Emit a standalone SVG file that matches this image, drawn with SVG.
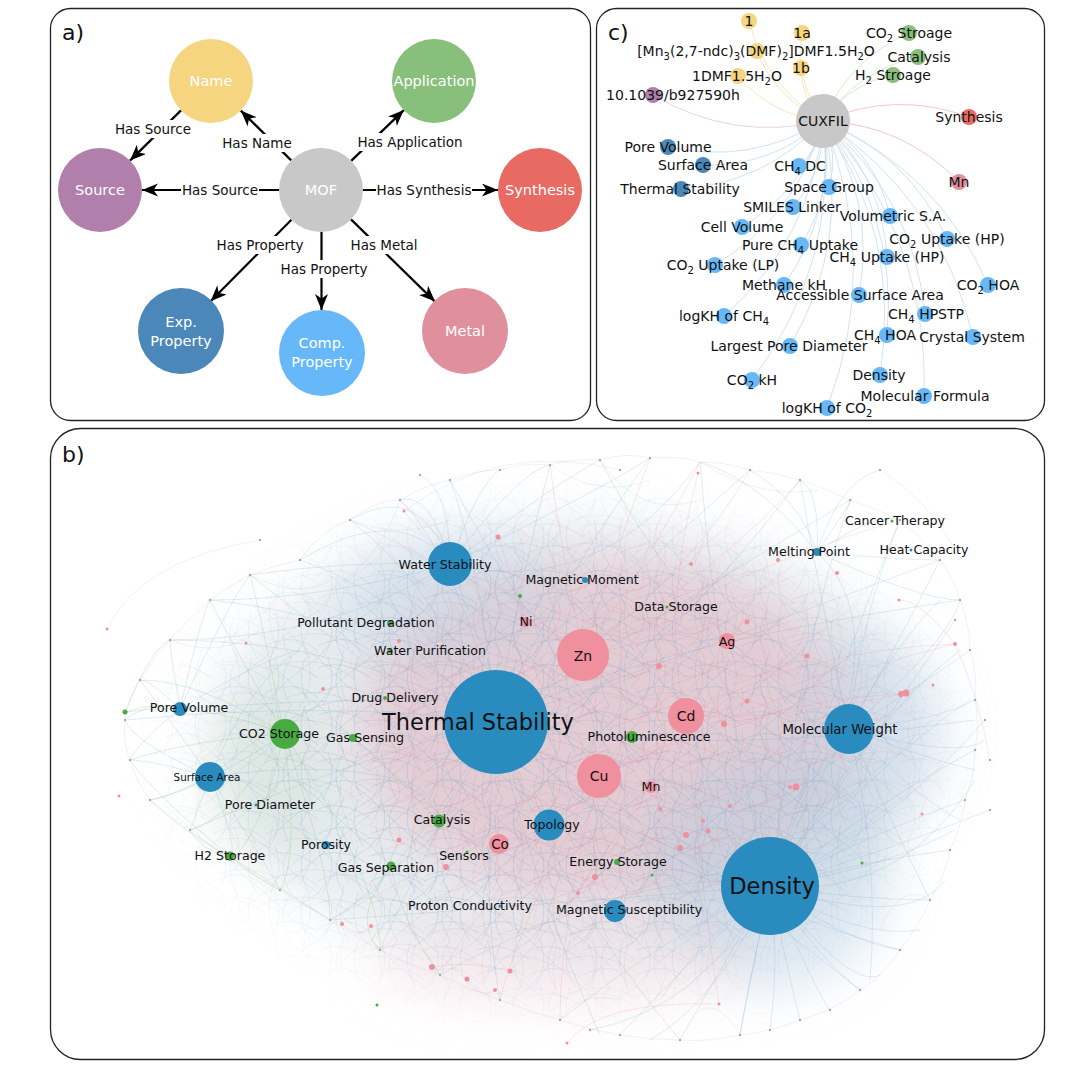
<svg xmlns="http://www.w3.org/2000/svg" width="1066" height="1074" viewBox="0 0 1066 1074">
<style>
text{font-family:"DejaVu Sans","Liberation Sans",sans-serif}
.frame{fill:#fff;stroke:#222;stroke-width:1.3}
.plab{font-size:22px;fill:#111}
.arr{stroke:#000;stroke-width:2.2;fill:none;marker-end:url(#ah)}
.elab{font-size:13.5px;fill:#111;text-anchor:middle}
.nlab{font-size:14.5px;fill:#fff;text-anchor:middle}
.cl{font-size:14px;fill:#111;text-anchor:middle}
.bl{font-size:12.6px;fill:#111;text-anchor:middle}
.big{font-size:22.5px}
.mid{font-size:14px}
.sm{font-size:10.4px}
.ce{fill:none;stroke-width:0.9}
.eb{fill:none;stroke:#6fa6cf;stroke-width:0.6;stroke-opacity:0.35}
.ep{fill:none;stroke:#e9909f;stroke-width:0.6;stroke-opacity:0.35}
.eg{fill:none;stroke:#7dbf72;stroke-width:0.6;stroke-opacity:0.4}
.ex{fill:none;stroke:#9aa;stroke-width:0.5;stroke-opacity:0.3}
.gd{fill:#aaa}
.bB{fill:#2a8bbf}
.bP{fill:#f0909e}
.bG{fill:#4aaa42}
</style>
<defs>
<marker id="ah" markerUnits="userSpaceOnUse" markerWidth="18" markerHeight="14" refX="16" refY="6.5" orient="auto">
<path d="M0,0 L16,6.5 L0,13 L4.5,6.5 z" fill="#000"/>
</marker>
<filter id="haze" x="-30%" y="-30%" width="160%" height="160%"><feGaussianBlur stdDeviation="24"/></filter>
<clipPath id="clipb"><rect x="50" y="428" width="994" height="632" rx="30"/></clipPath>
<pattern id="meshB" width="53" height="47" patternUnits="userSpaceOnUse">
<path d="M0,10 Q25,0 53,20 M0,35 Q30,20 53,40 M10,0 Q20,25 5,47 M40,0 Q30,25 45,47 M0,0 Q30,30 53,47 M0,47 Q20,20 53,0 M26,0 Q10,24 26,47" stroke="#6b9ec4" stroke-width="0.45" fill="none" opacity="0.55"/>
</pattern>
<pattern id="meshP" width="61" height="43" patternUnits="userSpaceOnUse">
<path d="M0,25 Q25,45 61,5 M25,0 Q45,20 20,43 M0,8 Q30,15 61,30 M50,0 Q40,20 55,43 M0,40 Q30,30 61,18 M10,0 Q15,20 0,35" stroke="#de8798" stroke-width="0.45" fill="none" opacity="0.6"/>
</pattern>
<pattern id="meshG" width="71" height="59" patternUnits="userSpaceOnUse">
<path d="M0,15 Q35,5 71,30 M0,50 Q35,35 71,55 M20,0 Q35,30 15,59 M60,0 Q50,30 65,59" stroke="#909aa0" stroke-width="0.4" fill="none" opacity="0.5"/>
</pattern>
<radialGradient id="rgAll" cx="0.5" cy="0.5" r="0.5">
<stop offset="0" stop-color="#fff"/><stop offset="0.6" stop-color="#fff" stop-opacity="0.85"/><stop offset="1" stop-color="#fff" stop-opacity="0"/>
</radialGradient>
<radialGradient id="rgCore" cx="0.5" cy="0.5" r="0.5">
<stop offset="0" stop-color="#fff"/><stop offset="0.6" stop-color="#fff" stop-opacity="0.8"/><stop offset="1" stop-color="#fff" stop-opacity="0"/>
</radialGradient>
<mask id="mAll" maskUnits="userSpaceOnUse" x="50" y="428" width="994" height="632"><ellipse cx="558" cy="752" rx="440" ry="285" fill="url(#rgAll)"/></mask>
<mask id="mCore" maskUnits="userSpaceOnUse" x="50" y="428" width="994" height="632"><ellipse cx="610" cy="740" rx="330" ry="240" fill="url(#rgCore)"/></mask>
</defs>

<!-- panel frames -->
<rect class="frame" x="50.5" y="8.5" width="540" height="412" rx="20"/>
<rect class="frame" x="596.5" y="8.5" width="448" height="412" rx="20"/>
<rect class="frame" x="50.5" y="428.5" width="994" height="631" rx="30"/>
<text class="plab" x="62" y="40">a)</text>
<text class="plab" x="608" y="40">c)</text>
<text class="plab" x="62" y="462">b)</text>

<!-- ============ PANEL A ============ -->
<g id="a-edges">
<line class="arr" x1="291.2" y1="160.4" x2="240.8" y2="110.6"/>
<line class="arr" x1="351.2" y1="160.9" x2="403.8" y2="110.1"/>
<line class="arr" x1="279" y1="190" x2="142" y2="190"/>
<line class="arr" x1="363" y1="190" x2="498" y2="190"/>
<line class="arr" x1="291.4" y1="219.8" x2="210.6" y2="301.2"/>
<line class="arr" x1="321.5" y1="232" x2="321.5" y2="310"/>
<line class="arr" x1="351" y1="219.4" x2="435" y2="301.6"/>
<line class="arr" x1="181" y1="110.4" x2="130" y2="160.6"/>
<g fill="#fff">
<rect x="222" y="134" width="71" height="18"/>
<rect x="357" y="133" width="107" height="18"/>
<rect x="181" y="181" width="78" height="18"/>
<rect x="376" y="181" width="96" height="18"/>
<rect x="216" y="236" width="89" height="18"/>
<rect x="280" y="260" width="89" height="18"/>
<rect x="350" y="236" width="68" height="18"/>
<rect x="114" y="120" width="78" height="18"/>
</g>
<text class="elab" x="257" y="148">Has Name</text>
<text class="elab" x="410" y="147">Has Application</text>
<text class="elab" x="220" y="195">Has Source</text>
<text class="elab" x="424" y="195">Has Synthesis</text>
<text class="elab" x="260" y="250">Has Property</text>
<text class="elab" x="324" y="274">Has Property</text>
<text class="elab" x="384" y="250">Has Metal</text>
<text class="elab" x="153" y="134">Has Source</text>
</g>
<g id="a-name"><circle cx="211" cy="81" r="42" fill="#f5d580"/><text class="nlab" x="211" y="86">Name</text></g>
<g id="a-application"><circle cx="434" cy="81" r="42" fill="#88bf7a"/><text class="nlab" x="434" y="86">Application</text></g>
<g id="a-source"><circle cx="100" cy="190" r="42" fill="#b07fab"/><text class="nlab" x="100" y="195">Source</text></g>
<g id="a-mof"><circle cx="321" cy="190" r="42" fill="#c8c8c8"/><text class="nlab" x="321" y="195">MOF</text></g>
<g id="a-synthesis"><circle cx="540" cy="190" r="42" fill="#e96a63"/><text class="nlab" x="540" y="195">Synthesis</text></g>
<g id="a-exp"><circle cx="181" cy="331" r="43" fill="#4c87ba"/><text class="nlab" x="181" y="327">Exp.</text><text class="nlab" x="181" y="346">Property</text></g>
<g id="a-comp"><circle cx="322" cy="353" r="43" fill="#66b8f9"/><text class="nlab" x="322" y="348">Comp.</text><text class="nlab" x="322" y="367">Property</text></g>
<g id="a-metal"><circle cx="465" cy="331" r="43" fill="#e0909c"/><text class="nlab" x="465" y="336">Metal</text></g>

<!-- ============ PANEL C ============ -->
<g id="c-edges">
<g class="ce" stroke="#f3e4b6">
<path d="M823,121 Q766,86 749,21"/>
<path d="M823,121 Q795,81 802,33"/>
<path d="M823,121 Q776,99 757,51"/>
<path d="M823,121 Q801,99 801,68"/>
<path d="M823,121 Q771,115 738,76"/>
</g>
<path class="ce" stroke="#e6cbe0" d="M823,121 Q733,142 653,95"/>
<g class="ce" stroke="#d4e6cc">
<path d="M823,121 Q848,60 909,33"/>
<path d="M823,121 Q858,70 918,57"/>
<path d="M823,121 Q849,84 893,75"/>
</g>
<g class="ce" stroke="#f3c2c2">
<path d="M823,121 Q895,90 969,117"/>
<path d="M823,121 Q903,124 959,182"/>
</g>
<g class="ce" stroke="#cbdff1">
<path d="M823,121 Q751,165 668,147"/>
<path d="M823,121 Q772,167 703,165"/>
<path d="M823,121 Q766,183 681,189"/>
<path d="M823,121 Q820,148 799,166"/>
<path d="M823,121 Q839,153 829,187"/>
<path d="M823,121 Q825,170 793,207"/>
<path d="M823,121 Q876,155 890,216"/>
<path d="M823,121 Q804,190 742,227"/>
<path d="M823,121 Q909,155 947,239"/>
<path d="M823,121 Q837,187 801,245"/>
<path d="M823,121 Q882,176 887,257"/>
<path d="M823,121 Q798,215 715,265"/>
<path d="M823,121 Q836,211 784,285"/>
<path d="M823,121 Q938,170 988,285"/>
<path d="M823,121 Q876,201 859,295"/>
<path d="M823,121 Q813,238 724,316"/>
<path d="M823,121 Q913,197 925,314"/>
<path d="M823,121 Q898,215 887,335"/>
<path d="M823,121 Q941,199 973,337"/>
<path d="M823,121 Q852,240 790,346"/>
<path d="M823,121 Q902,237 880,375"/>
<path d="M823,121 Q839,265 752,380"/>
<path d="M823,121 Q929,238 924,396"/>
<path d="M823,121 Q882,264 827,408"/>
</g>
</g>
<g id="c-nodes">
<g id="c-1"><circle cx="749" cy="21" r="8" fill="#f5d580"/><text class="cl" x="749" y="26">1</text></g>
<g id="c-1a"><circle cx="802" cy="33" r="8" fill="#f5d580"/><text class="cl" x="802" y="38">1a</text></g>
<g id="c-mnname"><circle cx="757" cy="51" r="8" fill="#f5d580"/><text class="cl" x="756" y="56">[Mn<tspan font-size="10" dy="4">3</tspan><tspan dy="-4">(2,7-ndc)</tspan><tspan font-size="10" dy="4">3</tspan><tspan dy="-4">(DMF)</tspan><tspan font-size="10" dy="4">2</tspan><tspan dy="-4">]DMF1.5H</tspan><tspan font-size="10" dy="4">2</tspan><tspan dy="-4">O</tspan></text></g>
<g id="c-1b"><circle cx="801" cy="68" r="8" fill="#f5d580"/><text class="cl" x="801" y="73">1b</text></g>
<g id="c-1dmf"><circle cx="738" cy="76" r="8" fill="#f5d580"/><text class="cl" x="737" y="81">1DMF1.5H<tspan font-size="10" dy="4">2</tspan><tspan dy="-4">O</tspan></text></g>
<g id="c-doi"><circle cx="653" cy="95" r="8" fill="#b07fab"/><text class="cl" x="673" y="100">10.1039/b927590h</text></g>
<g id="c-co2s"><circle cx="909" cy="33" r="8" fill="#88bf7a"/><text class="cl" x="909" y="38">CO<tspan font-size="10" dy="4">2</tspan><tspan dy="-4"> Stroage</tspan></text></g>
<g id="c-catal"><circle cx="918" cy="57" r="8" fill="#88bf7a"/><text class="cl" x="919" y="62">Catalysis</text></g>
<g id="c-h2s"><circle cx="893" cy="75" r="8" fill="#88bf7a"/><text class="cl" x="893" y="80">H<tspan font-size="10" dy="4">2</tspan><tspan dy="-4"> Stroage</tspan></text></g>
<g id="c-cuxfil"><circle cx="823" cy="121" r="27" fill="#c8c8c8"/><text class="cl" x="823" y="126">CUXFIL</text></g>
<g id="c-synth"><circle cx="969" cy="117" r="8" fill="#e96a63"/><text class="cl" x="969" y="122">Synthesis</text></g>
<g id="c-mn"><circle cx="959" cy="182" r="8" fill="#e0909c"/><text class="cl" x="959" y="187">Mn</text></g>
<g id="c-porevol"><circle cx="668" cy="147" r="8" fill="#4c87ba"/><text class="cl" x="668" y="152">Pore Volume</text></g>
<g id="c-surf"><circle cx="703" cy="165" r="8" fill="#4c87ba"/><text class="cl" x="703" y="170">Surface Area</text></g>
<g id="c-therm"><circle cx="681" cy="189" r="8" fill="#4c87ba"/><text class="cl" x="680" y="194">Thermal Stability</text></g>
<g id="c-ch4dc"><circle cx="799" cy="166" r="8" fill="#66b8f9"/><text class="cl" x="800" y="171">CH<tspan font-size="10" dy="4">4</tspan><tspan dy="-4"> DC</tspan></text></g>
<g id="c-space"><circle cx="829" cy="187" r="8" fill="#66b8f9"/><text class="cl" x="829" y="192">Space Group</text></g>
<g id="c-smiles"><circle cx="793" cy="207" r="8" fill="#66b8f9"/><text class="cl" x="792" y="212">SMILES Linker</text></g>
<g id="c-volsa"><circle cx="890" cy="216" r="8" fill="#66b8f9"/><text class="cl" x="893" y="221">Volumetric S.A.</text></g>
<g id="c-cellvol"><circle cx="742" cy="227" r="8" fill="#66b8f9"/><text class="cl" x="742" y="232">Cell Volume</text></g>
<g id="c-co2hp"><circle cx="947" cy="239" r="8" fill="#66b8f9"/><text class="cl" x="947" y="244">CO<tspan font-size="10" dy="4">2</tspan><tspan dy="-4"> Uptake (HP)</tspan></text></g>
<g id="c-pure"><circle cx="801" cy="245" r="8" fill="#66b8f9"/><text class="cl" x="800" y="250">Pure CH<tspan font-size="10" dy="4">4</tspan><tspan dy="-4"> Uptake</tspan></text></g>
<g id="c-ch4hp"><circle cx="887" cy="257" r="8" fill="#66b8f9"/><text class="cl" x="887" y="262">CH<tspan font-size="10" dy="4">4</tspan><tspan dy="-4"> Uptake (HP)</tspan></text></g>
<g id="c-co2lp"><circle cx="715" cy="265" r="8" fill="#66b8f9"/><text class="cl" x="723" y="270">CO<tspan font-size="10" dy="4">2</tspan><tspan dy="-4"> Uptake (LP)</tspan></text></g>
<g id="c-methkh"><circle cx="784" cy="285" r="8" fill="#66b8f9"/><text class="cl" x="784" y="290">Methane kH</text></g>
<g id="c-co2hoa"><circle cx="988" cy="285" r="8" fill="#66b8f9"/><text class="cl" x="988" y="290">CO<tspan font-size="10" dy="4">2</tspan><tspan dy="-4"> HOA</tspan></text></g>
<g id="c-asa"><circle cx="859" cy="295" r="8" fill="#66b8f9"/><text class="cl" x="860" y="300">Accessible Surface Area</text></g>
<g id="c-logch4"><circle cx="724" cy="316" r="8" fill="#66b8f9"/><text class="cl" x="724" y="321">logKH of CH<tspan font-size="10" dy="4">4</tspan></text></g>
<g id="c-hpstp"><circle cx="925" cy="314" r="8" fill="#66b8f9"/><text class="cl" x="926" y="319">CH<tspan font-size="10" dy="4">4</tspan><tspan dy="-4"> HPSTP</tspan></text></g>
<g id="c-ch4hoa"><circle cx="887" cy="335" r="8" fill="#66b8f9"/><text class="cl" x="885" y="340">CH<tspan font-size="10" dy="4">4</tspan><tspan dy="-4"> HOA</tspan></text></g>
<g id="c-crys"><circle cx="973" cy="337" r="8" fill="#66b8f9"/><text class="cl" x="972" y="342">Crystal System</text></g>
<g id="c-lpd"><circle cx="790" cy="346" r="8" fill="#66b8f9"/><text class="cl" x="789" y="351">Largest Pore Diameter</text></g>
<g id="c-dens"><circle cx="880" cy="375" r="8" fill="#66b8f9"/><text class="cl" x="879" y="380">Density</text></g>
<g id="c-co2kh"><circle cx="752" cy="380" r="8" fill="#66b8f9"/><text class="cl" x="752" y="385">CO<tspan font-size="10" dy="4">2</tspan><tspan dy="-4"> kH</tspan></text></g>
<g id="c-molf"><circle cx="924" cy="396" r="8" fill="#66b8f9"/><text class="cl" x="925" y="401">Molecular Formula</text></g>
<g id="c-logco2"><circle cx="827" cy="408" r="8" fill="#66b8f9"/><text class="cl" x="827" y="413">logKH of CO<tspan font-size="10" dy="4">2</tspan></text></g>
</g>

<!-- ============ PANEL B ============ -->
<g clip-path="url(#clipb)">
<g id="b-haze" filter="url(#haze)">
<ellipse cx="570" cy="745" rx="360" ry="225" fill="#d4dce4" opacity="0.55"/>
<ellipse cx="610" cy="730" rx="250" ry="170" fill="#e2c0ca" opacity="0.7"/>
<ellipse cx="770" cy="870" rx="120" ry="120" fill="#b4cde0" opacity="0.45"/>
<ellipse cx="865" cy="730" rx="80" ry="100" fill="#bed3e3" opacity="0.4"/>
<ellipse cx="450" cy="600" rx="110" ry="70" fill="#c3d5e3" opacity="0.4"/>
<ellipse cx="270" cy="770" rx="60" ry="90" fill="#cfe0cf" opacity="0.4"/>
<ellipse cx="560" cy="960" rx="190" ry="50" fill="#f0d6dc" opacity="0.4"/>
</g>
<rect x="50" y="428" width="994" height="632" fill="url(#meshB)" mask="url(#mAll)"/>
<rect x="50" y="428" width="994" height="632" fill="url(#meshP)" mask="url(#mCore)"/>
<rect x="50" y="428" width="994" height="632" fill="url(#meshG)" mask="url(#mAll)"/>
<g id="b-edges">
<path class="ex" d="M300,560 Q320,530 350,520 Q375,500 400,500 Q425,485 450,480 Q475,470 500,470 Q525,462 550,465 Q575,458 600,460 Q625,452 650,458 Q675,455 700,462 Q725,462 750,470 Q775,472 800,480 Q825,488 850,500 Q875,508 900,520 Q925,540 940,560 Q955,580 960,600 Q970,625 970,650 Q978,675 975,700 Q980,725 975,750 Q975,775 965,800 Q962,825 950,850 Q945,875 930,900 Q920,925 900,950 Q885,975 860,990 Q835,1010 800,1020 Q770,1032 740,1035 Q710,1042 680,1040 Q650,1040 620,1035 Q590,1030 560,1020 Q530,1012 500,1000 Q470,990 440,975 Q410,965 380,950 Q355,937 330,920 Q305,905 280,890 Q255,876 230,860 Q210,845 190,830 Q168,815 150,800 Q135,780 130,760 Q122,740 125,720 Q128,700 140,680 Q152,660 170,640 Q188,620 210,600 Q230,585 250,575 Q275,565 300,560"/>
<path class="ex" d="M350,520 Q400,540 450,520 M550,465 Q600,500 650,480 M700,462 Q760,500 820,490 M880,470 Q930,500 960,560 M250,575 Q300,600 330,580 M170,640 Q220,660 260,630 M400,500 Q380,560 330,590 M600,460 Q640,520 700,500 M930,900 Q900,880 880,930 M740,1035 Q720,1000 700,1010 M560,1020 Q580,990 620,1000 M380,950 Q420,930 440,975 M107,629 Q140,560 260,540 M404,511 Q500,440 620,470"/>
<path class="eb" d="M770,886 Q880,800 975,750 M770,886 Q880,830 965,800 M770,886 Q870,860 950,850 M770,886 Q860,900 930,900 M770,886 Q840,940 900,950 M770,886 Q820,960 860,990 M770,886 Q790,980 800,1020 M770,886 Q750,980 740,1035 M770,886 Q720,970 680,1040 M770,886 Q690,960 620,1035 M770,886 Q660,940 560,1020 M770,886 Q880,760 970,700 M770,886 Q870,720 960,650 M770,886 Q860,680 940,600 M770,886 Q850,640 900,520 M770,886 Q800,650 850,500 M770,886 Q720,700 700,462 M770,886 Q600,760 450,480 M770,886 Q600,900 330,920 M770,886 Q560,820 250,575 M770,886 Q900,900 975,780 M770,886 Q780,960 770,1030 M770,886 Q720,1000 650,1040 M770,886 Q880,870 955,830 M770,886 Q860,940 920,930 M770,886 Q900,820 985,720 M770,886 Q820,1000 830,1010 M770,886 Q700,1010 590,1030 M770,886 Q900,700 955,620 M770,886 Q650,860 440,975 M770,886 Q890,850 990,810 M770,886 Q850,990 880,975 M770,886 Q700,940 660,1000 M770,886 Q910,930 945,880"/>
<path class="eb" d="M496,722 Q420,600 300,560 M496,722 Q430,580 350,520 M496,722 Q460,560 400,500 M496,722 Q480,560 450,480 M496,722 Q520,580 550,465 M496,722 Q560,580 650,458 M496,722 Q600,600 750,470 M496,722 Q650,620 850,500 M496,722 Q700,650 940,560 M496,722 Q700,760 975,720 M496,722 Q650,880 900,950 M496,722 Q560,900 680,1040 M496,722 Q480,900 500,1000 M496,722 Q420,860 380,950 M496,722 Q380,800 280,890 M496,722 Q350,760 190,830 M496,722 Q330,700 125,720 M496,722 Q350,640 170,640 M496,722 Q400,620 210,600 M496,722 Q620,800 860,990 M496,722 Q600,740 800,480 M496,722 Q530,880 600,1035 M496,722 Q400,880 330,920 M496,722 Q620,650 960,600"/>
<path class="eb" d="M849,729 Q900,640 940,560 M849,729 Q930,680 970,650 M849,729 Q940,720 975,700 M849,729 Q930,760 975,770 M849,729 Q920,800 960,820 M849,729 Q900,840 930,900 M849,729 Q860,620 900,520 M849,729 Q820,600 800,480 M849,729 Q700,650 600,460 M849,729 Q780,800 740,1035 M849,729 Q880,860 870,980 M849,729 Q960,760 985,740 M849,729 Q950,640 960,600"/>
<path class="eb" d="M450,564 Q400,500 300,560 M450,564 Q420,480 350,520 M450,564 Q430,490 400,500 M450,564 Q450,490 420,475 M450,564 Q480,480 500,470 M450,564 Q520,470 550,465 M450,564 Q560,480 600,460 M450,564 Q600,490 650,458 M450,564 Q350,560 250,575 M450,564 Q320,600 210,600 M450,564 Q330,640 170,640 M450,564 Q600,600 700,462"/>
<path class="eb" d="M817,552 Q800,500 750,470 M817,552 Q820,490 800,480 M817,552 Q860,490 850,500 M817,552 Q880,510 900,520 M817,552 Q900,560 940,560 M817,552 Q920,600 960,600 M817,552 Q760,480 700,462 M817,552 Q840,480 880,470 M817,552 Q870,600 849,700"/>
<path class="eb" d="M210,777 Q170,720 140,680 M210,777 Q150,760 130,760 M210,777 Q160,800 150,800 M210,777 Q190,830 190,830 M210,777 Q240,850 230,860 M210,777 Q270,870 280,890 M210,777 Q130,740 125,720 M210,777 Q300,700 350,700 M210,777 Q320,760 400,780 M210,777 Q250,680 300,650 M180,709 Q150,700 125,720 M180,709 Q150,680 140,680 M180,709 Q170,650 170,640 M180,709 Q140,740 130,760 M180,709 Q200,620 210,600 M180,709 Q230,600 250,575 M180,709 Q260,660 300,650 M180,709 Q300,700 400,700"/>
<path class="eg" d="M284,734 Q200,700 125,712 M284,734 Q200,680 140,680 M284,734 Q190,740 130,760 M284,734 Q200,790 150,800 M284,734 Q230,820 190,830 M284,734 Q260,840 230,860 M284,734 Q300,860 280,890 M284,734 Q330,870 330,920 M284,734 Q380,880 380,950 M284,734 Q230,640 210,600 M284,734 Q260,610 250,575 M125,712 Q160,700 180,709 M125,712 Q150,650 170,640 M229,856 Q180,830 150,800 M229,856 Q200,850 190,830 M229,856 Q260,880 280,890 M229,856 Q300,900 330,920 M229,856 Q150,790 130,760 M391,866 Q400,920 440,975 M391,866 Q350,920 380,950 M437,820 Q380,760 353,738"/>
<path class="ep" d="M583,655 Q650,560 700,462 M583,655 Q620,540 650,458 M583,655 Q560,540 550,465 M583,655 Q700,560 750,470 M583,655 Q720,570 800,480 M583,655 Q460,560 400,500 M583,655 Q440,560 350,520 M583,655 Q620,700 660,700 M583,655 Q660,640 720,620 M583,655 Q760,560 900,520 M599,776 Q480,900 440,975 M599,776 Q520,920 500,1000 M599,776 Q560,920 560,1020 M599,776 Q460,880 380,950 M599,776 Q440,860 330,920 M599,776 Q650,690 700,688 M599,776 Q700,720 750,700 M599,776 Q700,800 800,780 M599,776 Q760,700 900,694 M599,776 Q800,680 955,644 M686,716 Q800,650 955,644 M686,716 Q780,720 901,694 M686,716 Q600,880 510,971 M686,716 Q700,880 719,1004 M686,716 Q660,620 698,473 M432,967 Q470,960 510,971 M467,979 Q480,1000 495,990 M342,924 Q360,940 371,926 M567,1043 Q600,1000 719,1004 M525,621 Q500,540 498,537 M525,621 Q440,560 404,511 M727,641 Q760,600 747,622 M955,644 Q980,700 990,760 M955,644 Q920,600 899,600"/>
</g>
<g id="b-minor">
<g class="gd">
<circle cx="300" cy="560" r="1.2"/><circle cx="350" cy="520" r="1.2"/><circle cx="400" cy="500" r="1.2"/><circle cx="450" cy="480" r="1.2"/><circle cx="500" cy="470" r="1.2"/><circle cx="550" cy="465" r="1.2"/><circle cx="600" cy="460" r="1.2"/><circle cx="650" cy="458" r="1.2"/><circle cx="750" cy="470" r="1.2"/><circle cx="800" cy="480" r="1.2"/><circle cx="850" cy="500" r="1.2"/><circle cx="900" cy="520" r="1.2"/><circle cx="940" cy="560" r="1.2"/><circle cx="960" cy="600" r="1.2"/><circle cx="970" cy="650" r="1.2"/><circle cx="975" cy="700" r="1.2"/><circle cx="975" cy="750" r="1.2"/><circle cx="965" cy="800" r="1.2"/><circle cx="950" cy="850" r="1.2"/><circle cx="930" cy="900" r="1.2"/><circle cx="900" cy="950" r="1.2"/><circle cx="860" cy="990" r="1.2"/><circle cx="800" cy="1020" r="1.2"/><circle cx="740" cy="1035" r="1.2"/><circle cx="680" cy="1040" r="1.2"/><circle cx="620" cy="1035" r="1.2"/><circle cx="560" cy="1020" r="1.2"/><circle cx="500" cy="1000" r="1.2"/><circle cx="440" cy="975" r="1.2"/><circle cx="380" cy="950" r="1.2"/><circle cx="330" cy="920" r="1.2"/><circle cx="280" cy="890" r="1.2"/><circle cx="230" cy="860" r="1.2"/><circle cx="190" cy="830" r="1.2"/><circle cx="150" cy="800" r="1.2"/><circle cx="130" cy="760" r="1.2"/><circle cx="125" cy="720" r="1.2"/><circle cx="140" cy="680" r="1.2"/><circle cx="170" cy="640" r="1.2"/><circle cx="210" cy="600" r="1.2"/><circle cx="250" cy="575" r="1.2"/><circle cx="420" cy="475" r="1.2"/><circle cx="880" cy="470" r="1.2"/><circle cx="985" cy="720" r="1.2"/><circle cx="830" cy="1010" r="1.2"/><circle cx="590" cy="1030" r="1.2"/><circle cx="955" cy="620" r="1.2"/><circle cx="770" cy="1030" r="1.2"/><circle cx="260" cy="540" r="1.2"/><circle cx="620" cy="470" r="1.2"/><circle cx="990" cy="810" r="1.2"/><circle cx="990" cy="760" r="1.2"/>
</g>
<g class="bP">
<circle cx="747" cy="622" r="2.5"/><circle cx="807" cy="656" r="2.5"/><circle cx="659" cy="666" r="3"/><circle cx="747" cy="701" r="2.5"/><circle cx="724" cy="724" r="3"/><circle cx="901" cy="694" r="3"/><circle cx="955" cy="644" r="2"/><circle cx="698" cy="473" r="1.5"/><circle cx="691" cy="564" r="2"/><circle cx="837" cy="573" r="2"/><circle cx="778" cy="560" r="2"/><circle cx="899" cy="600" r="1.5"/><circle cx="933" cy="685" r="1.5"/><circle cx="796" cy="787" r="3.5"/><circle cx="730" cy="806" r="2"/><circle cx="660" cy="809" r="2"/><circle cx="703" cy="821" r="2"/><circle cx="686" cy="835" r="3"/><circle cx="708" cy="831" r="2.5"/><circle cx="680" cy="848" r="3"/><circle cx="595" cy="877" r="3"/><circle cx="578" cy="893" r="2"/><circle cx="446" cy="867" r="3"/><circle cx="399" cy="840" r="2.5"/><circle cx="342" cy="924" r="2"/><circle cx="371" cy="926" r="2"/><circle cx="432" cy="967" r="3"/><circle cx="467" cy="979" r="2.5"/><circle cx="510" cy="971" r="2.5"/><circle cx="495" cy="990" r="2"/><circle cx="567" cy="1043" r="1.5"/><circle cx="719" cy="1004" r="1.5"/><circle cx="922" cy="814" r="1.5"/><circle cx="119" cy="796" r="1.5"/><circle cx="404" cy="511" r="1.5"/><circle cx="498" cy="537" r="2.5"/><circle cx="246" cy="643" r="1.5"/><circle cx="323" cy="689" r="2"/><circle cx="107" cy="629" r="1.5"/><circle cx="399" cy="641" r="2"/><circle cx="906" cy="693" r="3.5"/><circle cx="790" cy="787" r="2"/>
</g>
<g class="bG">
<circle cx="125" cy="712" r="2.5"/><circle cx="520" cy="596" r="2"/><circle cx="652" cy="875" r="1.5"/><circle cx="862" cy="863" r="1.5"/><circle cx="377" cy="1005" r="1.5"/>
</g>
</g>
</g>

<g id="b-nodes">
<g id="b-waterstab"><circle class="bB" cx="450" cy="564" r="22"/><text class="bl" x="445" y="569">Water Stability</text></g>
<g id="b-magmom"><circle class="bB" cx="585" cy="580" r="3"/><text class="bl" x="582" y="584">Magnetic Moment</text></g>
<g id="b-pollut"><circle class="bG" cx="390" cy="623" r="3"/><text class="bl" x="366" y="627">Pollutant Degradation</text></g>
<g id="b-ni"><circle class="bP" cx="526" cy="622" r="5"/><text class="bl" x="526" y="626">Ni</text></g>
<g id="b-waterpur"><circle class="bG" cx="390" cy="651" r="2.5"/><text class="bl" x="430" y="655">Water Purification</text></g>
<g id="b-zn"><circle class="bP" cx="583" cy="655" r="26"/><text class="bl mid" x="583" y="661">Zn</text></g>
<g id="b-datast"><circle class="bG" cx="667" cy="607" r="1.5"/><text class="bl" x="676" y="611">Data Storage</text></g>
<g id="b-ag"><circle class="bP" cx="727" cy="641" r="8"/><text class="bl" x="727" y="646">Ag</text></g>
<g id="b-cancer"><circle class="bG" cx="892" cy="521" r="1.5"/><text class="bl" x="895" y="525">Cancer Therapy</text></g>
<g id="b-melting"><circle class="bB" cx="817" cy="552" r="4"/><text class="bl" x="809" y="556">Melting Point</text></g>
<g id="b-heatcap"><circle class="bB" cx="911" cy="550" r="1.5"/><text class="bl" x="924" y="554">Heat Capacity</text></g>
<g id="b-thermal"><circle class="bB" cx="496" cy="722" r="52"/><text class="bl big" x="478" y="730">Thermal Stability</text></g>
<g id="b-cd"><circle class="bP" cx="686" cy="716" r="18"/><text class="bl mid" x="686" y="721">Cd</text></g>
<g id="b-photolum"><circle class="bG" cx="632" cy="737" r="6"/><text class="bl" x="649" y="741">Photoluminescence</text></g>
<g id="b-molw"><circle class="bB" cx="849" cy="729" r="25"/><text class="bl" x="840" y="734" style="font-size:13.3px">Molecular Weight</text></g>
<g id="b-porevol"><circle class="bB" cx="180" cy="709" r="7"/><text class="bl" x="189" y="712">Pore Volume</text></g>
<g id="b-co2st"><circle class="bG" cx="285" cy="734" r="15"/><text class="bl" x="279" y="738">CO2 Storage</text></g>
<g id="b-drug"><circle class="bG" cx="385" cy="698" r="2"/><text class="bl" x="395" y="702">Drug Delivery</text></g>
<g id="b-gassens"><circle class="bG" cx="353" cy="738" r="4"/><text class="bl" x="365" y="742">Gas Sensing</text></g>
<g id="b-surf"><circle class="bB" cx="210" cy="777" r="15"/><text class="bl sm" x="207" y="781">Surface Area</text></g>
<g id="b-porediam"><circle class="bB" cx="256" cy="805" r="1.5"/><text class="bl" x="270" y="809">Pore Diameter</text></g>
<g id="b-cu"><circle class="bP" cx="599" cy="776" r="22"/><text class="bl mid" x="599" y="781">Cu</text></g>
<g id="b-mn"><circle class="bP" cx="651" cy="787" r="6"/><text class="bl" x="651" y="791">Mn</text></g>
<g id="b-catal"><circle class="bG" cx="439" cy="821" r="6.5"/><text class="bl" x="442" y="824">Catalysis</text></g>
<g id="b-topo"><circle class="bB" cx="549" cy="825" r="15.5"/><text class="bl" x="552" y="829">Topology</text></g>
<g id="b-co"><circle class="bP" cx="499" cy="844" r="10"/><text class="bl" x="500" y="849" style="font-size:13.5px">Co</text></g>
<g id="b-poros"><circle class="bB" cx="326" cy="845" r="4"/><text class="bl" x="326" y="849">Porosity</text></g>
<g id="b-h2st"><circle class="bG" cx="230" cy="856" r="4.5"/><text class="bl" x="230" y="860">H2 Storage</text></g>
<g id="b-sensors"><circle class="bG" cx="467" cy="852" r="1.5"/><text class="bl" x="464" y="860">Sensors</text></g>
<g id="b-gassep"><circle class="bG" cx="391" cy="866" r="4.5"/><text class="bl" x="386" y="872">Gas Separation</text></g>
<g id="b-energy"><circle class="bG" cx="617" cy="862" r="3"/><text class="bl" x="618" y="866">Energy Storage</text></g>
<g id="b-proton"><circle class="bB" cx="500" cy="906" r="1.5"/><text class="bl" x="470" y="910">Proton Conductivity</text></g>
<g id="b-magsus"><circle class="bB" cx="615" cy="911" r="11"/><text class="bl" x="629" y="914">Magnetic Susceptibility</text></g>
<g id="b-density"><circle class="bB" cx="770" cy="886" r="49"/><text class="bl big" x="772" y="894">Density</text></g>
</g>
</svg>
